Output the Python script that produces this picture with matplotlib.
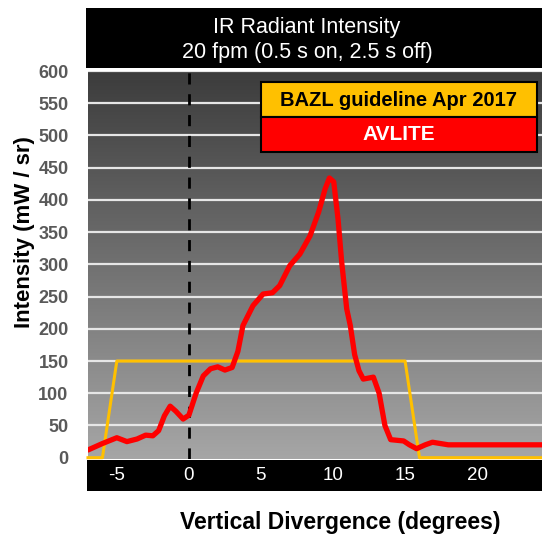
import numpy as np
import matplotlib
matplotlib.use("Agg")
import matplotlib.pyplot as plt
from matplotlib.patches import Rectangle

plt.rcParams['font.family'] = ['Liberation Sans', 'DejaVu Sans']

# AVLITE measured curve (degrees, mW/sr)
avlite_x = [-7.0, -6.0, -5.0, -4.3, -3.6, -3.0, -2.5, -2.1, -1.7, -1.3, -0.9, -0.4, 0.0,
            0.5, 1.0, 1.5, 2.0, 2.5, 3.0, 3.4, 3.75, 4.45, 5.15, 5.8, 6.3, 7.0, 7.7, 8.4,
            9.0, 9.45, 9.75, 10.05, 10.35, 10.6, 10.95, 11.2, 11.5, 11.8, 12.1, 12.8, 13.2,
            13.6, 14.0, 14.9, 15.3, 15.8, 16.4, 16.9, 18.0, 20.0, 24.5]
avlite_y = [12, 22, 31, 25, 29, 35, 34, 42, 65, 80, 72, 60, 66,
            100, 127, 138, 141, 136, 140, 165, 205, 236, 254, 256, 267, 298, 316, 344,
            381, 417, 434, 428, 370, 304, 231, 205, 160, 135, 122, 125, 100,
            50, 28, 26, 20, 14, 20, 24, 20, 20, 20]

# BAZL guideline envelope
bazl_x = [-7.0, -6.0, -5.0, 15.0, 16.0, 24.5]
bazl_y = [0, 0, 150, 150, 0, 0]

y_ticks = [0, 50, 100, 150, 200, 250, 300, 350, 400, 450, 500, 550, 600]
x_ticks = [-5, 0, 5, 10, 15, 20]

W, H = 542, 535
fig = plt.figure(figsize=(W / 100, H / 100), dpi=100)

def fx(px):
    return px / W

def fy(py):
    return 1 - py / H

ax = fig.add_axes([fx(88), fy(459), fx(542) - fx(88), fy(71) - fy(459)])
xmin, xmax = -7.0, 24.5
ax.set_xlim(xmin, xmax)
ax.set_ylim(-2, 600)

# gray gradient background
grad = np.linspace(0, 1, 256).reshape(-1, 1)
cmap = matplotlib.colors.LinearSegmentedColormap.from_list('g', ['#a6a6a6', '#3c3c3c'])
ax.imshow(grad, aspect='auto', cmap=cmap, origin='lower',
          extent=[xmin, xmax, -2, 600], zorder=0)

for t in y_ticks[1:]:
    ax.axhline(t, color='#e6e6e6', lw=1.6, zorder=1)

ax.axvline(0, color='black', lw=2, ls=(0, (4, 3.5)), zorder=2)
ax.plot(bazl_x, bazl_y, color='#FFC000', lw=2.2, zorder=3, clip_on=False)
ax.plot(avlite_x, avlite_y, color='#FF0000', lw=3.8, zorder=4,
        solid_capstyle='round', solid_joinstyle='round')

for s in ax.spines.values():
    s.set_visible(False)
ax.set_yticks(y_ticks)
ax.set_yticklabels([str(t) for t in y_ticks], color='#595959', fontsize=13, fontweight='bold')
ax.tick_params(axis='y', length=0, pad=14)
ax.set_xticks([])

# black band with x tick labels
band = fig.add_axes([fx(87), fy(491), fx(542) - fx(87), fy(460) - fy(491)])
band.set_facecolor('black')
band.set_xlim(xmin - 1 / 14.4, xmax)
band.set_ylim(0, 1)
band.set_xticks([])
band.set_yticks([])
for s in band.spines.values():
    s.set_visible(False)
for t in x_ticks:
    band.text(t, 0.5, str(t), color='white', fontsize=13.5, ha='center', va='center')

# black title band
tband = fig.add_axes([fx(86), fy(68), fx(542) - fx(86), fy(8) - fy(68)])
tband.set_facecolor('black')
tband.set_xticks([])
tband.set_yticks([])
for s in tband.spines.values():
    s.set_visible(False)
fig.text(fx(307), fy(27), 'IR Radiant Intensity', color='white', fontsize=15.5,
         ha='center', va='center')
fig.text(fx(307), fy(52), '20 fpm (0.5 s on, 2.5 s off)', color='white', fontsize=15.5,
         ha='center', va='center')

# legend boxes
fig.patches.append(Rectangle((fx(261), fy(117)), fx(537) - fx(261), fy(82) - fy(117),
                             transform=fig.transFigure, facecolor='#FFC000',
                             edgecolor='black', lw=1.5, zorder=5))
fig.patches.append(Rectangle((fx(261), fy(152)), fx(537) - fx(261), fy(117) - fy(152),
                             transform=fig.transFigure, facecolor='#FF0000',
                             edgecolor='black', lw=1.5, zorder=5))
fig.text(fx(399), fy(100), 'BAZL guideline Apr 2017', color='black', fontsize=14.5,
         fontweight='bold', ha='center', va='center', zorder=6)
fig.text(fx(399), fy(135), 'AVLITE', color='white', fontsize=15,
         fontweight='bold', ha='center', va='center', zorder=6)

fig.text(fx(25), fy(232), 'Intensity (mW / sr)', color='black', fontsize=16,
         fontweight='bold', rotation=90, ha='center', va='center')
fig.text(fx(340), fy(522), 'Vertical Divergence (degrees)', color='black', fontsize=16.5,
         fontweight='bold', ha='center', va='center')

fig.savefig('out.png', dpi=100)
